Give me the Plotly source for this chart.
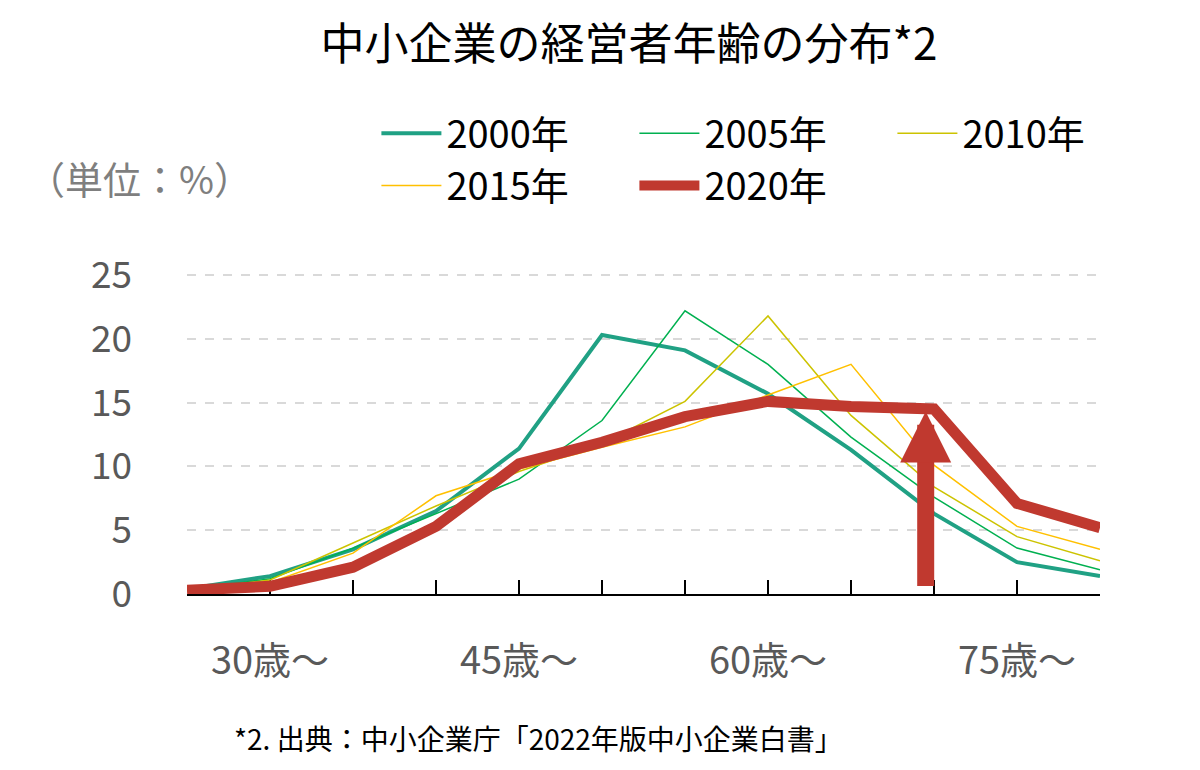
import plotly.graph_objects as go

# age groups (only every third one gets a label on the axis)
ages = ["～29歳", "30歳～", "35歳～", "40歳～", "45歳～", "50歳～",
        "55歳～", "60歳～", "65歳～", "70歳～", "75歳～", "80歳～"]
tick_text = ["", "30歳～", "", "", "45歳～", "", "", "60歳～", "", "", "75歳～", ""]

# share of owners by age group (%)
y2000 = [0.4, 1.4, 3.5, 6.5, 11.4, 20.3, 19.1, 15.7, 11.3, 6.3, 2.5, 1.4]
y2005 = [0.3, 1.2, 3.6, 6.3, 9.0, 13.6, 22.2, 18.0, 12.3, 7.6, 3.6, 1.9]
y2010 = [0.3, 1.1, 4.0, 6.9, 9.6, 11.8, 15.1, 21.8, 14.0, 8.4, 4.5, 2.6]
y2015 = [0.2, 0.9, 3.2, 7.7, 9.8, 11.5, 13.1, 15.6, 18.0, 10.1, 5.3, 3.5]
y2020 = [0.3, 0.6, 2.1, 5.3, 10.2, 11.9, 13.9, 15.1, 14.7, 14.5, 7.1, 5.2]

series = [
    ("2000年", y2000, "#20A184", 4),
    ("2005年", y2005, "#00B050", 1.5),
    ("2010年", y2010, "#CCC300", 1.5),
    ("2015年", y2015, "#FFC000", 1.5),
    ("2020年", y2020, "#C0392F", 11),
]

FONT = "Noto Sans CJK JP"

fig = go.Figure()
for name, vals, color, width in series:
    fig.add_trace(go.Scatter(
        x=ages, y=vals, name=name, mode="lines",
        line=dict(color=color, width=width),
    ))

# arrow pointing up at the 70s group of 2020
fig.add_annotation(
    x=8.9, y=y2020[9] - 0.2, ax=8.9, ay=0.5,
    xref="x", yref="y", axref="x", ayref="y",
    text="", showarrow=True,
    arrowhead=2, arrowwidth=17, arrowsize=0.6, arrowcolor="#C0392F",
)

# unit label and source note (paper coords: plot area is 913 x 324 px)
fig.add_annotation(
    text="（単位：%）", x=-0.177, y=1.287, xref="paper", yref="paper",
    xanchor="left", yanchor="middle", showarrow=False,
    font=dict(size=38, color="#7F7F7F", family=FONT),
)
fig.add_annotation(
    text="*2. 出典：中小企業庁「2022年版中小企業白書」",
    x=0.049, y=-0.444, xref="paper", yref="paper",
    xanchor="left", yanchor="middle", showarrow=False,
    font=dict(size=28, color="black", family=FONT),
)

fig.update_layout(
    width=1200, height=770,
    margin=dict(l=179, r=108, t=262, b=184, autoexpand=False),
    paper_bgcolor="white", plot_bgcolor="white",
    font=dict(family=FONT, color="black"),
    title=dict(
        text="中小企業の経営者年齢の分布*2",
        x=0.5175, xref="container", xanchor="center",
        y=0.952, yref="container", yanchor="middle",
        font=dict(size=44, color="black", family=FONT),
    ),
    legend=dict(
        orientation="h", x=0.307, y=0.878, xref="container", yref="container",
        xanchor="left", yanchor="top",
        entrywidth=183, entrywidthmode="pixels", itemwidth=60,
        font=dict(size=38, color="black", family=FONT),
        bgcolor="rgba(0,0,0,0)",
    ),
    showlegend=True,
)

fig.update_xaxes(
    type="category", range=[0, 11],
    tickmode="array", tickvals=ages, ticktext=tick_text,
    ticks="inside", ticklen=14, tickwidth=2, tickcolor="black",
    showline=True, linecolor="black", linewidth=2,
    showgrid=False, layer="below traces",
    tickfont=dict(size=38, color="#595959", family=FONT),
    ticklabelstandoff=32,
)
fig.update_yaxes(
    range=[0, 25.4], tickvals=[0, 5, 10, 15, 20, 25],
    showgrid=True, gridcolor="#D9D9D9", gridwidth=1.5, griddash="dash",
    zeroline=False, showline=False, ticks="",
    tickfont=dict(size=37, color="#595959", family=FONT),
    ticklabelstandoff=54,
)

fig.write_html("out.html")
